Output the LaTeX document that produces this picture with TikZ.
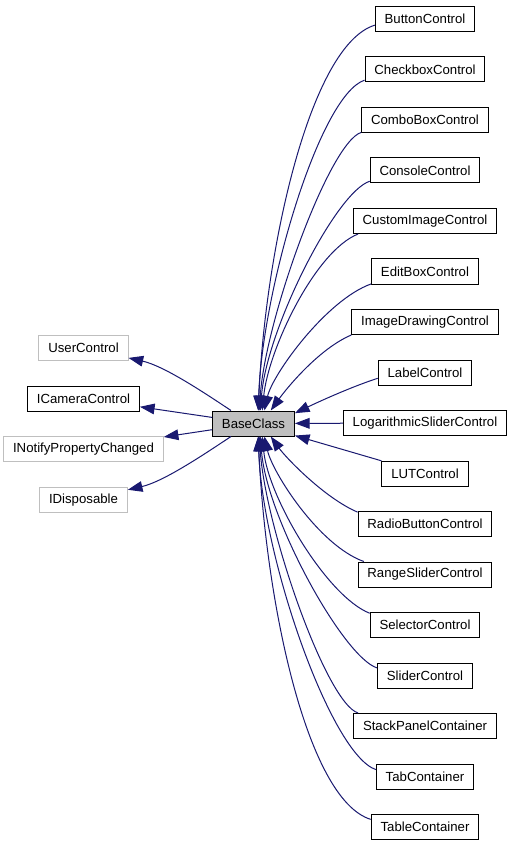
\documentclass[tikz,border=0pt]{standalone}
\usepackage{fontspec}
\setmainfont{Liberation Sans}
\usetikzlibrary{arrows.meta}
\definecolor{edgeblue}{HTML}{191970}
\definecolor{boxgray}{HTML}{BFBFBF}

\begin{document}
\begin{tikzpicture}[x=0.75pt, y=-0.75pt,
  cls/.style={draw=black, line width=0.75pt, minimum height=18.75pt,
    inner xsep=7pt, inner ysep=0pt, font=\fontsize{9.9}{11}\selectfont},
  ext/.style={cls, draw=boxgray},
  basebox/.style={cls, fill=boxgray},
  inh/.style={edgeblue, line width=0.75pt, -{Triangle[length=11pt, width=8pt]}}]
  \fill[white] (0, 0) rectangle (512, 848);
  \useasboundingbox (0, 0) rectangle (512, 848);

  % base class and its parents
  \node[basebox] (base) at (253.5, 423.5) {BaseClass};
  \node[ext] (user) at (83.5, 347.5) {UserControl};
  \node[cls] (icam) at (83.5, 398.5) {ICameraControl};
  \node[ext] (inotify) at (83.5, 449) {INotifyPropertyChanged};
  \node[ext] (disp) at (83.5, 500) {IDisposable};

  % derived classes
  \foreach \name/\txt [count=\i from 0] in {btn/ButtonControl, chk/CheckboxControl,
      combo/ComboBoxControl, console/ConsoleControl, cimg/CustomImageControl,
      edit/EditBoxControl, imgdraw/ImageDrawingControl, lbl/LabelControl,
      logslider/LogarithmicSliderControl, lut/LUTControl, radio/RadioButtonControl,
      range/RangeSliderControl, selector/SelectorControl, slider/SliderControl,
      stack/StackPanelContainer, tab/TabContainer, table/TableContainer}
    \node[cls] (\name) at (425, 19+50.5*\i) {\txt};

  % inheritance edges
  \foreach \src/\sa/\ea/\ax/\ay/\bx/\by in {btn/187/70/-65/20/7/-161,
      chk/190/70/-45/15/4/-121, combo/191/66/-32/10/6/-91,
      console/191/62/-34/11/6/-81, cimg/191/56/-43/17/6/-61,
      edit/193/50/-45/16/8/-36, imgdraw/190/37/-33/14/15/-21,
      lbl/187/14/-25/8/25/-12, radio/170/323/-33/-14/15/21,
      range/168/310/-45/-16/8/36, selector/168/304/-43/-17/6/61,
      slider/171/298/-34/-11/6/81, stack/169/294/-32/-10/6/91,
      tab/172/290/-45/-15/4/121, table/172/290/-65/-20/7/161}
    \draw[inh] (\src.\sa) .. controls +(\ax, \ay) and +(\bx, \by) .. (base.\ea);
  \draw[inh] (logslider) -- (base);
  \draw[inh] (lut) -- (base);

  \draw[inh] (base.150) .. controls +(-30, -20) and +(35, 8) .. (user.347);
  \draw[inh] (base) -- (icam);
  \draw[inh] (base) -- (inotify);
  \draw[inh] (base.210) .. controls +(-30, 20) and +(35, -8) .. (disp.13);
\end{tikzpicture}
\end{document}
